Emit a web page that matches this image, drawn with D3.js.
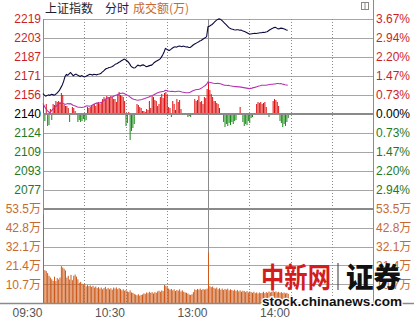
<!DOCTYPE html>
<html>
<head>
<meta charset="utf-8">
<script src="https://cdn.jsdelivr.net/npm/d3@7"></script>
<style>
  html, body { margin: 0; padding: 0; background: #fff; }
  svg { display: block; font-family: "Liberation Sans", Arial, "Noto Sans CJK SC", sans-serif; }
</style>
</head>
<body>
<svg id="chart" width="414" height="320"></svg>
<script>
// minute 0 = 09:30, 120 = 13:00, 240 = 15:00
const preClose = 2140;

const timeTicks  = [0, 60, 120, 180];
const timeLabels = ['09:30', '10:30', '13:00', '14:00'];
const gridMinutes = [30, 60, 90, 150, 180, 210];

const pctTicks    = [3.67, 2.94, 2.20, 1.47, 0.73, 0, -0.73, -1.47, -2.20, -2.94];
const priceLabels = ['2219', '2203', '2187', '2171', '2156', '2140', '2124', '2109', '2093', '2077'];
const pctLabels   = ['3.67%', '2.94%', '2.20%', '1.47%', '0.73%', '0.00%', '0.73%', '1.47%', '2.20%', '2.94%'];

const volTicks  = [53.5, 42.8, 32.1, 21.4, 10.7];
const volLabels = ['53.5万', '42.8万', '32.1万', '21.4万', '10.7万'];

// one value per minute, from 09:30
const indexLine = [
  2156.9, 2155.6, 2154.8, 2155.2, 2155.8, 2155.4, 2156.3, 2156.0, 2155.6, 2156.1,
  2157.0, 2158.2, 2159.7, 2161.8, 2164.0, 2167.0, 2171.0, 2172.6, 2172.0, 2173.2,
  2174.3, 2173.0, 2171.6, 2172.4, 2173.0, 2172.2, 2171.6, 2171.0, 2171.8, 2171.2,
  2170.6, 2171.0, 2171.6, 2172.2, 2172.8, 2172.6, 2172.2, 2172.8, 2172.6, 2172.4,
  2172.8, 2173.0, 2173.4, 2174.6, 2175.4, 2176.6, 2177.6, 2177.8, 2178.4, 2178.6,
  2179.0, 2179.6, 2180.6, 2181.4, 2181.8, 2182.6, 2183.2, 2184.0, 2184.6, 2185.4,
  2184.8, 2184.0, 2183.0, 2181.4, 2179.6, 2178.6, 2178.0, 2178.2, 2179.4, 2180.4,
  2180.0, 2179.8, 2180.4, 2180.6, 2180.0, 2179.2, 2179.4, 2179.8, 2180.2, 2180.4,
  2181.4, 2182.6, 2183.4, 2184.0, 2184.6, 2185.4, 2186.8, 2188.8, 2191.0, 2194.2,
  2193.6, 2192.8, 2192.6, 2193.4, 2194.4, 2195.2, 2195.6, 2195.2, 2195.8, 2196.2,
  2196.0, 2195.6, 2196.2, 2195.8, 2195.4, 2195.6, 2195.0, 2195.0, 2195.8, 2196.8,
  2197.6, 2198.2, 2199.0, 2199.6, 2200.3, 2200.8, 2201.6, 2202.4, 2203.0, 2204.0,
  2212.2, 2212.6, 2213.4, 2214.0, 2215.2, 2216.3, 2217.4, 2218.2, 2218.6, 2218.4,
  2217.4, 2216.3, 2215.2, 2214.0, 2212.8, 2211.6, 2210.8, 2210.3, 2210.0, 2209.6,
  2209.4, 2209.6, 2209.6, 2209.2, 2209.4, 2208.8, 2208.4, 2208.0, 2207.4, 2206.8,
  2206.2, 2206.1, 2206.4, 2206.6, 2206.7, 2206.6, 2206.8, 2207.0, 2207.2, 2207.2,
  2207.6, 2207.4, 2207.8, 2208.0, 2208.8, 2209.6, 2210.3, 2210.8, 2211.4, 2211.7,
  2211.0, 2210.3, 2210.6, 2211.0, 2210.8, 2210.4, 2210.0, 2209.4, 2209.2
];

const leadLine = [
  2148.6, 2146.5, 2144.5, 2143.0, 2141.8, 2141.0, 2142.4, 2143.8, 2145.0, 2145.8,
  2147.0, 2148.0, 2148.6, 2149.0, 2148.8, 2148.4, 2148.0, 2148.2, 2148.6, 2148.4,
  2148.6, 2147.8, 2147.0, 2146.8, 2146.4, 2145.8, 2145.6, 2145.6, 2145.4, 2145.6,
  2145.8, 2146.4, 2146.8, 2146.6, 2146.4, 2146.8, 2147.4, 2148.0, 2148.6, 2149.0,
  2149.2, 2149.0, 2149.6, 2150.0, 2150.8, 2151.8, 2152.8, 2153.2, 2153.4, 2153.8,
  2154.0, 2154.4, 2155.0, 2155.5, 2156.0, 2156.6, 2157.0, 2157.2, 2157.4, 2157.0,
  2156.4, 2155.8, 2155.2, 2154.4, 2153.4, 2152.6, 2152.2, 2152.0, 2151.6, 2151.4,
  2151.6, 2151.8, 2152.0, 2152.4, 2152.8, 2153.3, 2153.6, 2154.0, 2154.7, 2155.0,
  2155.6, 2156.2, 2156.8, 2157.4, 2157.8, 2158.2, 2158.4, 2158.6, 2158.8, 2159.6,
  2159.4, 2159.0, 2158.8, 2158.6, 2158.8, 2158.6, 2158.4, 2158.6, 2158.8, 2158.8,
  2158.6, 2158.2, 2158.0, 2157.8, 2157.6, 2157.6, 2157.7, 2158.0, 2158.6, 2159.2,
  2159.6, 2160.0, 2160.2, 2160.2, 2160.6, 2161.2, 2162.0, 2162.8, 2163.6, 2164.6,
  2166.5, 2166.2, 2166.0, 2165.7, 2165.4, 2165.2, 2165.2, 2165.4, 2165.2, 2165.0,
  2164.6, 2164.2, 2163.8, 2163.8, 2163.6, 2163.8, 2163.4, 2163.2, 2163.0, 2162.8,
  2162.6, 2162.6, 2162.4, 2162.4, 2162.2, 2162.0, 2161.8, 2161.6, 2161.4, 2161.2,
  2161.0, 2161.2, 2161.4, 2161.8, 2162.0, 2162.4, 2162.8, 2163.2, 2163.4, 2163.8,
  2163.8, 2163.8, 2163.8, 2164.0, 2164.2, 2164.4, 2164.6, 2164.6, 2164.8, 2164.8,
  2165.2, 2165.2, 2165.0, 2165.2, 2164.8, 2164.5, 2164.2, 2164.0, 2163.8
];

// buy/sell strength bars (red up, green down), arbitrary units
const flow = [
   9,  -7,  10, -12, -11,   5,  -6,  10,   9,  13,
  12,  13,  12,  21,  19,   9,   8,   8,   6,  -8,
   0,   7,   6,   3,   0,  -8,  -6,  -8,  -7,  -5,
  -7,  -6,   7,   6,   7,   8,   9,  10,   8,  11,
  12,  10,  12,  15,  17,  14,  18,  17,  16,  18,
  17,  15,  15,  12,  20,  22,  19,  18,  17,  13,
 -12,  -9,   2, -26, -17, -14, -10,   0,  10,   9,
   7,   6,   3,   3,   2,   5,   4,  13,   6,  18,
  17,  14,  13,   8,  10,  17,  20,  16,  21,  22,
  19,   7,   6,  -3,  13,  10,   4,  15,  12,  14,
   5,   0,   0,   0,   0,  -3,  -2,  -3,   0,   0,
  15,  13,  14,  18,  12,  13,  10,  17,  16,  25,
  32,  24,  20,  17,  13,  13,  11,  10,   6,   0,
   0,  -8, -13, -10, -12,  -9, -11,  -8, -10,  -7,
  -6,   0,   0,   7,   0,  -8, -12, -10, -11,  -7,
  -9,  -4,  -3,   0,   0,  10,  12,  11,  12,  10,
  11,  12,   7,   0,  -3,   0,   0,  13,  15,  14,
  12,   8,  -7,  -9, -13, -10, -12,  -8,  -4
];

// turnover per minute, 万
const volume = [
  50.4, 18.7, 18.2, 17.0, 15.5, 14.5, 13.5, 12.6, 15.0, 12.5,
  14.2, 13.4, 14.5, 21.0, 20.2, 19.5, 18.5, 14.5, 15.5, 13.4,
  16.0, 13.0, 15.5, 16.2, 15.0, 13.5, 11.5, 12.0, 11.0, 10.5,
  10.8,  9.5, 10.2,  9.6, 10.0,  9.2,  9.8,  8.8,  9.4,  8.5,
   9.0,  8.2,  8.8,  7.8,  8.5,  9.2,  8.0,  8.6,  7.8,  8.4,
   7.6,  8.8,  8.2,  8.9,  7.9,  8.5,  8.0,  7.2,  7.8,  7.0,
   7.4,  6.6,  6.2,  7.2,  6.0,  5.8,  5.2,  4.8,  4.4,  5.0,
   4.2,  4.6,  4.8,  5.5,  5.2,  6.0,  5.6,  6.4,  5.8,  6.2,
   5.4,  6.2,  5.8,  6.6,  7.0,  6.4,  7.2,  6.8, 10.2,  9.8,
   9.0,  8.2,  7.6,  8.0,  7.2,  7.8,  6.8,  7.4,  7.0,  7.8,
   6.6,  7.2,  6.4,  6.0,  5.8,  5.4,  4.8,  4.6,  5.0,  6.2,
   7.8,  7.4,  8.0,  7.6,  8.2,  7.4,  8.0,  7.6,  7.8,  8.2,
  28.7,  9.6,  9.0,  9.4,  8.6,  8.2,  8.8,  7.8,  8.4,  7.6,
   8.2,  7.4,  8.0,  7.6,  8.2,  7.2,  7.8,  7.4,  7.0,  7.6,
   6.8,  7.4,  6.6,  7.2,  6.4,  7.0,  6.8,  6.2,  6.8,  6.0,
   6.6,  6.2,  5.8,  6.4,  5.6,  6.0,  5.4,  6.0,  5.6,  5.8,
   6.4,  5.6,  6.2,  5.8,  6.6,  6.0,  6.4,  6.8,  6.2,  6.6,
   6.0,  6.4,  5.8,  6.2,  5.6,  6.0,  5.4,  5.8,  5.2
];

const W = 414, H = 320;
const L = 43, R = 373, T = 19, MID = 209, B = 303;

const RED = '#cc1f1f', GREEN = '#1f7a1f', ORANGE = '#c86a30';
const GRID = '#a6a6a6', THICK = '#8a8a8a';
const CJK = '"Noto Sans CJK SC", sans-serif';

const svg = d3.select('#chart');

const x      = d3.scaleLinear().domain([0, 240]).range([L, R]);
const yPct   = d3.scaleLinear().domain([-3.67, 3.67]).range([MID, T]);
const yPrice = d3.scaleLinear().domain([preClose * (1 - 0.0367), preClose * (1 + 0.0367)]).range([MID, T]);
const yFlow  = d3.scaleLinear().domain([-95, 95]).range([MID, T]);
const yVol   = d3.scaleLinear().domain([0, 53.5]).range([B, MID]);

const signColor = p => p > 0 ? RED : p < 0 ? GREEN : '#000';

// horizontal grid
const grid = svg.append('g');
grid.selectAll('.hp')
  .data(pctTicks.filter(p => p !== 0))
  .join('line')
    .attr('x1', L).attr('x2', R)
    .attr('y1', d => Math.round(yPct(d)) + 0.5)
    .attr('y2', d => Math.round(yPct(d)) + 0.5)
    .attr('stroke', GRID);
grid.selectAll('.hv')
  .data(volTicks.slice(1))
  .join('line')
    .attr('x1', L).attr('x2', R)
    .attr('y1', d => Math.round(yVol(d)) + 0.5)
    .attr('y2', d => Math.round(yVol(d)) + 0.5)
    .attr('stroke', GRID);

// vertical grid
grid.selectAll('.vd')
  .data(gridMinutes)
  .join('line')
    .attr('x1', d => Math.round(x(d)) + 0.5)
    .attr('x2', d => Math.round(x(d)) + 0.5)
    .attr('y1', T).attr('y2', B)
    .attr('stroke', '#8c8c8c')
    .attr('stroke-dasharray', '1,2');
grid.append('line')
  .attr('x1', Math.round(x(120)) + 0.5).attr('x2', Math.round(x(120)) + 0.5)
  .attr('y1', T).attr('y2', B)
  .attr('stroke', THICK);
grid.append('line')
  .attr('x1', L + 0.5).attr('x2', L + 0.5)
  .attr('y1', T).attr('y2', B)
  .attr('stroke', THICK);
grid.append('line')
  .attr('x1', R + 0.5).attr('x2', R + 0.5)
  .attr('y1', 0).attr('y2', B)
  .attr('stroke', THICK);

// volume bars
svg.append('g')
  .selectAll('rect')
  .data(volume)
  .join('rect')
    .attr('x', (d, i) => x(i))
    .attr('width', 1)
    .attr('y', d => yVol(d))
    .attr('height', d => yVol(0) - yVol(d))
    .attr('fill', '#cc5a1a');

// strength bars round the 2140 line
svg.append('g')
  .selectAll('rect')
  .data(flow)
  .join('rect')
    .attr('x', (d, i) => x(i))
    .attr('width', 1)
    .attr('y', d => yFlow(Math.max(d, 0)))
    .attr('height', d => Math.abs(yFlow(d) - yFlow(0)))
    .attr('fill', d => d >= 0 ? '#dd1111' : '#1a8a1a');

// thick lines
svg.append('line')
  .attr('x1', L).attr('x2', R)
  .attr('y1', yPct(0)).attr('y2', yPct(0))
  .attr('stroke', THICK).attr('stroke-width', 2);
svg.append('line')
  .attr('x1', L).attr('x2', R)
  .attr('y1', MID).attr('y2', MID)
  .attr('stroke', THICK).attr('stroke-width', 2);
svg.append('line')
  .attr('x1', 0).attr('x2', W)
  .attr('y1', B + 0.5).attr('y2', B + 0.5)
  .attr('stroke', THICK).attr('stroke-width', 1.5);

// lines
const line = d3.line().x((d, i) => x(i)).y(d => yPrice(d));
svg.append('path')
  .attr('d', line(leadLine))
  .attr('fill', 'none')
  .attr('stroke', '#b534b5')
  .attr('stroke-width', 1.1);
svg.append('path')
  .attr('d', line(indexLine))
  .attr('fill', 'none')
  .attr('stroke', '#0a0a40')
  .attr('stroke-width', 1.1);

// price axis (left) and percent axis (right)
const axisL = svg.append('g')
  .attr('transform', `translate(${L - 2},0)`)
  .call(d3.axisLeft(yPct).tickValues(pctTicks).tickSize(0).tickPadding(0)
    .tickFormat((d, i) => priceLabels[i]));
axisL.select('.domain').remove();
axisL.selectAll('text')
  .attr('font-size', 12)
  .attr('font-family', '"Liberation Sans", Arial, sans-serif')
  .attr('fill', d => signColor(d));

const axisR = svg.append('g')
  .attr('transform', `translate(${R + 3},0)`)
  .call(d3.axisRight(yPct).tickValues(pctTicks).tickSize(0).tickPadding(0)
    .tickFormat((d, i) => pctLabels[i]));
axisR.select('.domain').remove();
axisR.selectAll('text')
  .attr('font-size', 12)
  .attr('font-family', '"Liberation Sans", Arial, sans-serif')
  .attr('fill', d => signColor(d));

// volume axes
[[d3.axisLeft, L - 2], [d3.axisRight, R + 3]].forEach(([mk, tx]) => {
  const ax = svg.append('g')
    .attr('transform', `translate(${tx},0)`)
    .call(mk(yVol).tickValues(volTicks).tickSize(0).tickPadding(0)
      .tickFormat((d, i) => volLabels[i]));
  ax.select('.domain').remove();
  ax.selectAll('text')
    .attr('font-size', 12)
    .attr('font-family', '"Liberation Sans", Arial, "Noto Sans CJK SC", sans-serif')
    .attr('fill', ORANGE);
});

// time axis
svg.append('g')
  .selectAll('text')
  .data(timeTicks)
  .join('text')
    .attr('x', d => x(d) - 0.5)
    .attr('y', 317)
    .attr('text-anchor', 'end')
    .attr('font-size', 12)
    .attr('fill', '#555')
    .text((d, i) => timeLabels[i]);

// header
const head = svg.append('g').attr('font-family', CJK).attr('font-size', 12);
head.append('text').attr('x', 45).attr('y', 13).attr('fill', '#1c1c2e').text('上证指数');
head.append('text').attr('x', 105).attr('y', 13).attr('fill', '#1c1c50').text('分时');
head.append('text').attr('x', 133).attr('y', 13).attr('fill', ORANGE).text('成交额(万)');

// little window icon
svg.append('rect')
  .attr('x', 361.5).attr('y', 2.5).attr('width', 7).attr('height', 7)
  .attr('fill', 'none').attr('stroke', '#888');
svg.append('line')
  .attr('x1', 365).attr('x2', 365).attr('y1', 2.5).attr('y2', 9.5)
  .attr('stroke', '#888');

// watermark
const wm = svg.append('g');
wm.append('text')
  .attr('x', 261).attr('y', 288)
  .attr('font-family', CJK).attr('font-size', 28).attr('font-weight', 700)
  .attr('textLength', 70).attr('lengthAdjust', 'spacingAndGlyphs')
  .attr('fill', '#d41c1c')
  .text('中新网');
wm.append('line')
  .attr('x1', 338).attr('x2', 338).attr('y1', 263).attr('y2', 290)
  .attr('stroke', '#555').attr('stroke-width', 1.2);
wm.append('text')
  .attr('x', 346).attr('y', 288)
  .attr('font-family', CJK).attr('font-size', 28).attr('font-weight', 900)
  .attr('textLength', 55).attr('lengthAdjust', 'spacingAndGlyphs')
  .attr('fill', '#111')
  .text('证券');
wm.append('text')
  .attr('x', 262).attr('y', 305.5)
  .attr('font-size', 13.5).attr('font-weight', 700)
  .attr('textLength', 140).attr('lengthAdjust', 'spacingAndGlyphs')
  .attr('fill', '#111')
  .attr('stroke', '#fff').attr('stroke-width', 2.5)
  .attr('paint-order', 'stroke')
  .text('stock.chinanews.com');
</script>
</body>
</html>
